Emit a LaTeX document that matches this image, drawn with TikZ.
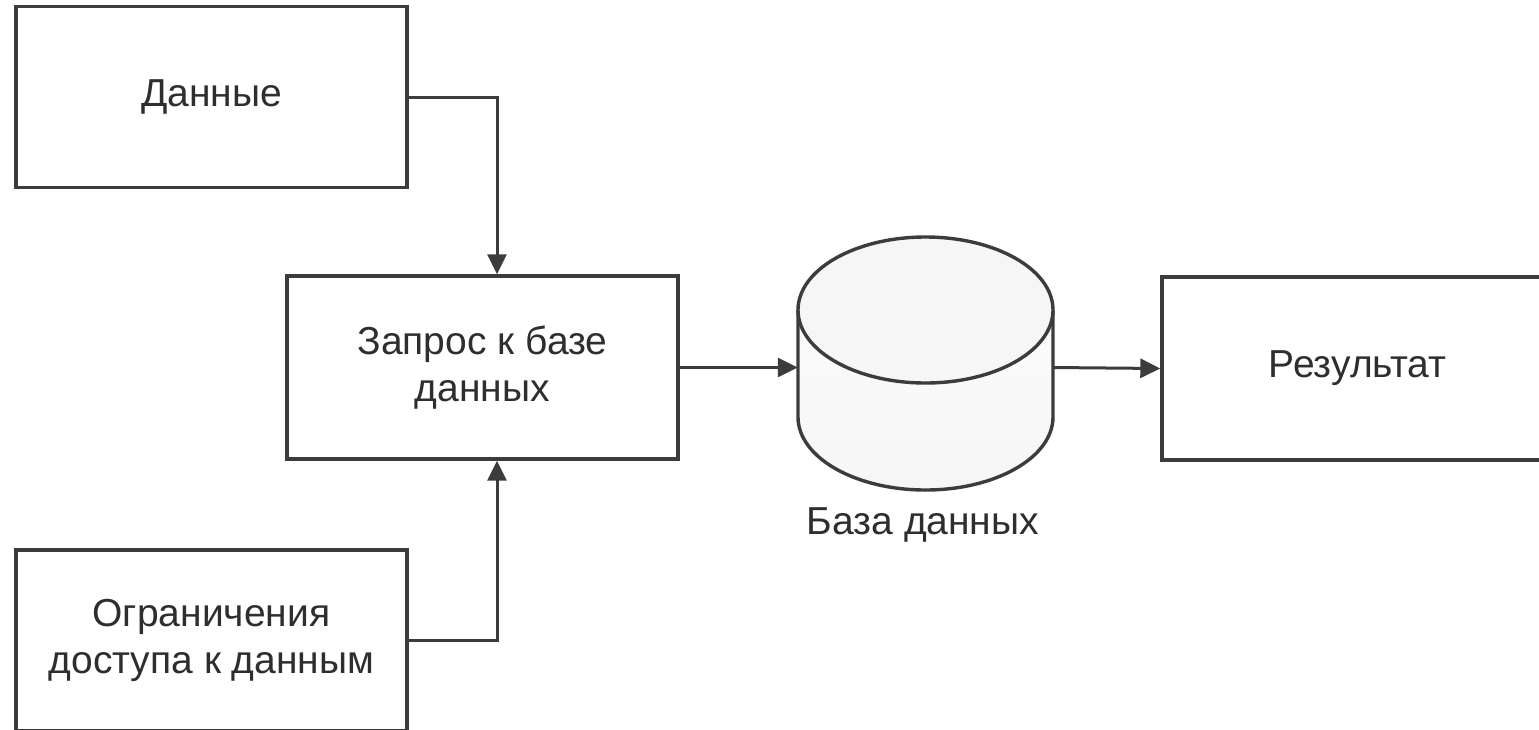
\documentclass[tikz,border=0pt]{standalone}
\usepackage{fontspec}
\setmainfont{Liberation Sans}
\usetikzlibrary{arrows.meta}
\definecolor{linec}{HTML}{3C3C3C}
\definecolor{textc}{HTML}{2E2E2E}
\begin{document}
\begin{tikzpicture}[x=1pt,y=1pt,
  box/.style={draw=linec,line width=3.4pt,fill=white,minimum width=391pt,minimum height=181pt,
    align=center,text=textc,font=\fontsize{39}{47}\selectfont,inner sep=0pt},
  conn/.style={draw=linec,line width=3pt,-{Triangle[length=20pt,width=19pt]}},
  lbl/.style={text=textc,font=\fontsize{39}{47}\selectfont,inner sep=0pt}]
\useasboundingbox (0,0) rectangle (1539,-729);
\clip (0,0) rectangle (1539,-729);
\fill[white] (0,0) rectangle (1539,-729);
% boxes
\node[box] (d) at (211.5,-97) {Данные};
\node[box,minimum height=183pt] (q) at (482.5,-367.5) {Запрос к базе\\данных};
\node[box,minimum height=183pt] (r) at (1357.5,-368.5) {Результат};
\node[box] (o) at (211.5,-640.5) {Ограничения\\доступа к данным};
% database cylinder
\node[minimum width=255pt,minimum height=253pt,inner sep=0pt] (db) at (925.5,-363.5) {};
\shade[top color=gray!3,bottom color=gray!7] (798,-310) -- (798,-417)
  arc[start angle=180,end angle=360,x radius=127.5,y radius=73] -- (1053,-310) -- cycle;
\draw[linec,line width=3.4pt] (798,-310) -- (798,-417)
  arc[start angle=180,end angle=360,x radius=127.5,y radius=73] -- (1053,-310);
\draw[linec,line width=3.4pt,fill=gray!7] (925.5,-310) ellipse[x radius=127.5,y radius=73];
\node[lbl] (dbl) at (923,-525) {База данных};
% connectors
\coordinate (dj) at (497,-97);
\coordinate (oj) at (497,-640.5);
\draw[conn] (d.east) -- (dj) -- (dj |- q.north);
\draw[conn] (o.east) -- (oj) -- (oj |- q.south);
\draw[conn] (q.east) -- (q.east -| db.west);
\draw[conn] (q.east -| db.east) -- (r.west);
\end{tikzpicture}
\end{document}
